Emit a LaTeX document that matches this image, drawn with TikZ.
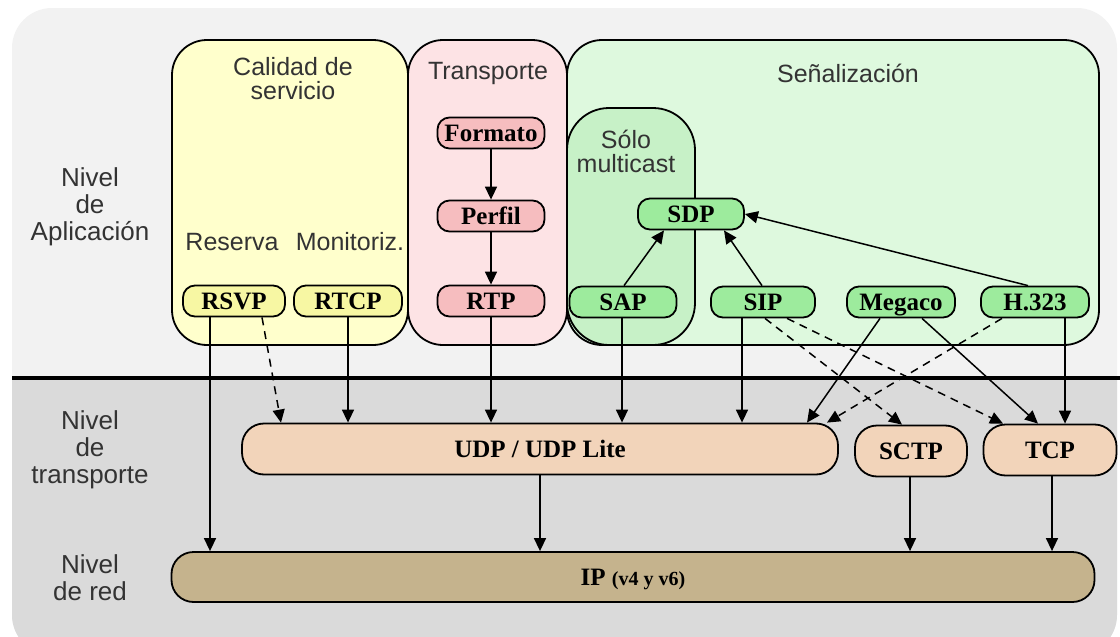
\documentclass[tikz,border=0pt]{standalone}
\usepackage{fontspec}
\setmainfont{Liberation Serif}
\newfontfamily\labelfont{Liberation Sans}
\usetikzlibrary{arrows.meta}
\definecolor{upperGrey}{HTML}{F2F2F2}
\definecolor{lowerGrey}{HTML}{DADADA}
\definecolor{labelText}{HTML}{333333}
\definecolor{qosLight}{HTML}{FFFFCC}
\definecolor{qosDark}{HTML}{F7F7A3}
\definecolor{rtpLight}{HTML}{FDE3E5}
\definecolor{rtpDark}{HTML}{F6BDBF}
\definecolor{sigLight}{HTML}{DEF9DE}
\definecolor{sigMid}{HTML}{C7F1C7}
\definecolor{sigDark}{HTML}{9DEB9D}
\definecolor{transFill}{HTML}{F2D4BA}
\definecolor{ipFill}{HTML}{C5B38D}

\begin{document}
\begin{tikzpicture} [
    x=1pt, y=-1pt,
    edge/.style={-{Triangle[length=13pt,width=12pt]}, line width=1.5pt},
    dashedEdge/.style={edge, dash pattern=on 8pt off 6pt},
    group/.style={draw, line width=1.8pt, rounded corners=35pt},
    caption/.style={font=\labelfont\fontsize{25}{24}\selectfont, text=labelText, align=center, inner sep=0pt},
    levelCaption/.style={caption, font=\labelfont\fontsize{26}{27}\selectfont},
    proto/.style={rectangle, draw, line width=1.8pt, rounded corners=12pt, inner sep=0pt, minimum height=31pt, font=\fontsize{25}{25}\selectfont\bfseries, text height=16.5pt, text depth=0pt},
    qosProto/.style={proto, fill=qosDark},
    rtpProto/.style={proto, fill=rtpDark},
    sigProto/.style={proto, fill=sigDark},
    transProto/.style={proto, fill=transFill, rounded corners=22pt, minimum height=51pt},
    netProto/.style={proto, fill=ipFill, rounded corners=22pt, minimum height=50pt}
]
\useasboundingbox (0,0) rectangle (1120,637);

% background of the levels
\fill[upperGrey, rounded corners=40pt] (12,8) rectangle (1117,655);
\begin{scope}
\clip (0,378) rectangle (1120,637);
\fill[lowerGrey, rounded corners=40pt] (12,8) rectangle (1117,655);
\end{scope}
\draw[line width=4.5pt] (12,378) -- (1120,378);

\node[levelCaption] (app_level) at (90,207) {Nivel\\de\\Aplicación};
\node[levelCaption] (trans_level) at (90,450) {Nivel\\de\\transporte};
\node[levelCaption] (net_level) at (90,578) {Nivel\\de red};

% application groups
\draw[group, fill=qosLight] (172,40) rectangle (408,345);
\draw[group, fill=rtpLight] (408,40) rectangle (567,345);
\draw[group, fill=sigLight] (567,40) rectangle (1099,345);
\draw[group, fill=sigMid, rounded corners=42pt] (567,108) rectangle (695,345);

\node[caption] (qos_title) at (293,79) {Calidad de\\servicio};
\node[caption] (rtp_title) at (488,73) {Transporte};
\node[caption] (sig_title) at (848,73) {Señalización};
\node[caption] (mc_title) at (626,151) {Sólo\\multicast};
\node[caption] (reserva) at (232,242) {Reserva};
\node[caption] (monitoriz) at (350,242) {Monitoriz.};

\node[qosProto, minimum width=102pt] (rsvp) at (234,301) {RSVP};
\node[qosProto, minimum width=108pt] (rtcp) at (348,301) {RTCP};

\node[rtpProto, minimum width=107pt] (formato) at (491,133) {Formato};
\node[rtpProto, minimum width=107pt] (perfil) at (491,216) {Perfil};
\node[rtpProto, minimum width=107pt] (rtp) at (491,301) {RTP};

\node[sigProto, minimum width=106pt] (sdp) at (691,214) {SDP};
\node[sigProto, minimum width=107pt] (sap) at (623,302) {SAP};
\node[sigProto, minimum width=104pt] (sip) at (763,302) {SIP};
\node[sigProto, minimum width=108pt] (megaco) at (901,302) {Megaco};
\node[sigProto, minimum width=108pt] (h323) at (1035,302) {H.323};

% transport and network
\node[transProto, minimum width=596pt] (udp) at (540,449) {UDP / UDP Lite};
\node[transProto, minimum width=112pt] (sctp) at (911,451) {SCTP};
\node[transProto, minimum width=133pt] (tcp) at (1050,450) {TCP};
\node[netProto, minimum width=923pt] (ip) at (633,577) {IP {\fontsize{20}{20}\selectfont (v4 y v6)}};

% connectors
\draw[edge] (formato) -- (perfil);
\draw[edge] (perfil) -- (rtp);

\draw[edge] (sap.north -| 624,0) -- (sdp.south -| 664,0);
\draw[edge] (sip.north -| 762,0) -- (sdp.south -| 724,0);
\draw[edge] (h323.north -| 1028,0) -- (sdp.east);

\draw[edge] (rsvp.south -| 210,0) -- (ip.north -| 210,0);
\draw[dashedEdge] (rsvp.south -| 262,0) -- (udp.north -| 281,0);
\draw[edge] (rtcp.south) -- (rtcp.south |- udp.north);
\draw[edge] (rtp.south) -- (rtp.south |- udp.north);
\draw[edge] (sap.south -| 622,0) -- (udp.north -| 622,0);
\draw[edge] (sip.south -| 742,0) -- (udp.north -| 742,0);
\draw[dashedEdge] (sip.south -| 765,0) -- (sctp.north -| 902,0);
\draw[dashedEdge] (sip.south -| 787,0) -- (tcp.north -| 1003,0);
\draw[edge] (megaco.south -| 880,0) -- (udp.north -| 807,0);
\draw[edge] (megaco.south -| 922,0) -- (tcp.north -| 1038,0);
\draw[dashedEdge] (h323.south -| 1002,0) -- (udp.north -| 827,0);
\draw[edge] (h323.south -| 1065,0) -- (tcp.north -| 1065,0);

\draw[edge] (udp.south) -- (udp.south |- ip.north);
\draw[edge] (sctp.south -| 910,0) -- (ip.north -| 910,0);
\draw[edge] (tcp.south -| 1052,0) -- (ip.north -| 1052,0);

\end{tikzpicture}
\end{document}
